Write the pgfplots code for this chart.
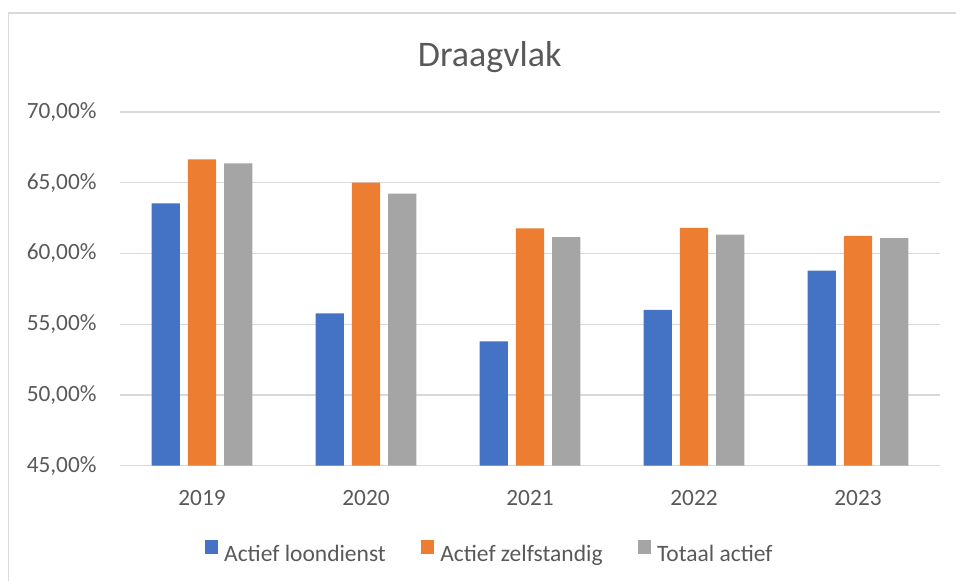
\documentclass[border=0pt]{standalone}
\usepackage{fontspec}
\setmainfont{Carlito}
\usepackage{pgfplots}
\pgfplotsset{compat=1.18}
\definecolor{cblue}{HTML}{4472C4}
\definecolor{corange}{HTML}{ED7D31}
\definecolor{cgray}{HTML}{A5A5A5}
\definecolor{ctext}{HTML}{595959}
\definecolor{cgrid}{HTML}{D9D9D9}
\begin{document}
\begin{tikzpicture}[x=1pt,y=1pt]
\path[use as bounding box] (0,0) rectangle (956,581);
\draw[color=cgrid, line width=1.3pt] (8.5,0) -- (8.5,568) -- (956,568);
\node[anchor=base, text=ctext, font=\fontsize{36}{40}\selectfont, inner sep=0pt] at (489.7,514) {Draagvlak};
\begin{axis}[
  at={(120pt,115.3pt)}, anchor=south west,
  scale only axis, width=820pt, height=353.7pt,
  xmin=-0.5, xmax=4.5, ymin=45, ymax=70,
  ybar=7.9pt, bar width=28.3pt,
  axis line style={draw=none},
  major tick length=0pt,
  ymajorgrids, grid style={color=cgrid, line width=1.3pt},
  ytick={45,50,55,60,65,70},
  yticklabels={{45,00\%},{50,00\%},{55,00\%},{60,00\%},{65,00\%},{70,00\%}},
  xtick={0,1,2,3,4},
  xticklabels={2019,2020,2021,2022,2023},
  ticklabel style={font=\fontsize{23.3}{28}\selectfont, text=ctext, inner sep=0pt},
  yticklabel style={anchor=base east, xshift=-23.3pt, yshift=-6.5pt},
  xticklabel style={anchor=base, yshift=-40pt},
  legend columns=3,
  legend style={at={(0.103,-0.243)}, anchor=west, draw=none, fill=none,
    font=\fontsize{23.5}{28}\selectfont, text=ctext, inner sep=0pt,
    nodes={inner sep=0pt},
    /tikz/every odd column/.append style={column sep=6pt},
    /tikz/every even column/.append style={column sep=35pt}},
  legend image code/.code={\fill[#1] (0pt,0pt) rectangle (13.5pt,13.5pt);},
]
\addplot[fill=cblue, draw=none] coordinates {(0,63.55) (1,55.76) (2,53.78) (3,56.02) (4,58.79)};
\addplot[fill=corange, draw=none] coordinates {(0,66.66) (1,65.01) (2,61.78) (3,61.81) (4,61.24)};
\addplot[fill=cgray, draw=none] coordinates {(0,66.37) (1,64.23) (2,61.15) (3,61.34) (4,61.08)};
\legend{Actief loondienst, Actief zelfstandig, Totaal actief}
\end{axis}
\end{tikzpicture}
\end{document}
